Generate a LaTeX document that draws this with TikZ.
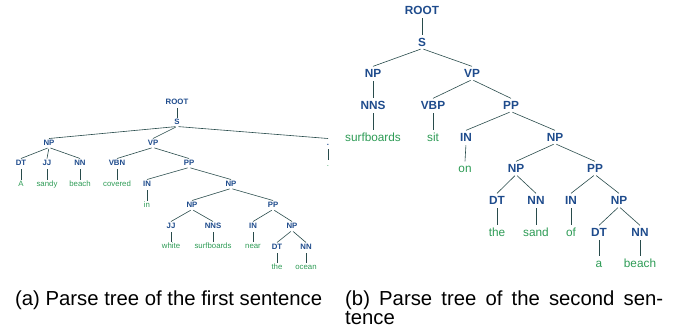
\documentclass[tikz,border=0pt]{standalone}
\usepackage{fontspec}
\setmainfont{Liberation Sans}
\usetikzlibrary{positioning}

\definecolor{tagblue}{RGB}{30,75,140}
\definecolor{wordgreen}{RGB}{45,155,85}
\definecolor{edgegray}{RGB}{40,75,75}

\tikzset{
  tagA/.style={font=\fontsize{7.8}{8}\selectfont\bfseries, text=tagblue,
    inner sep=1.5pt, text height=5.6pt, text depth=0pt},
  wordA/.style={font=\fontsize{7.8}{8}\selectfont, text=wordgreen,
    inner sep=1.5pt, text height=5.6pt, text depth=0pt},
  tagB/.style={font=\fontsize{11.8}{12}\selectfont\bfseries, text=tagblue,
    inner sep=2.2pt, text height=8.5pt, text depth=0pt},
  wordB/.style={font=\fontsize{11.8}{12}\selectfont, text=wordgreen,
    inner sep=2.2pt, text height=8.5pt, text depth=0pt},
  edge/.style={draw=edgegray, line width=0.6pt, shorten <=1.5pt},
  caption/.style={font=\fontsize{20.3}{19.3}\selectfont, inner sep=0pt}
}

\begin{document}
\begin{tikzpicture}[x=1pt,y=-1pt]
  \useasboundingbox (0,0) rectangle (675,335);

  % Tree (a): first sentence
  \node[tagA] (aRoot) at (177,102) {ROOT};
  \node[tagA] (aS)    at (177,122) {S};
  \node[tagA] (aNP)   at (49,143)  {NP};
  \node[tagA] (aVP)   at (153,143) {VP};
  \node[tagA] (aDotT) at (328,143) {.};
  \node[tagA] (aDT)   at (21,163)  {DT};
  \node[tagA] (aJJ)   at (47,163)  {JJ};
  \node[tagA] (aNN)   at (80,163)  {NN};
  \node[tagA] (aVBN)  at (117,163) {VBN};
  \node[tagA] (aPP)   at (189,163) {PP};
  \node[wordA] (aDotW) at (328,164) {.};
  \node[wordA] (aA)     at (21,184)  {A};
  \node[wordA] (aSandy) at (47,184)  {sandy};
  \node[wordA] (aBeach) at (80,184)  {beach};
  \node[wordA] (aCov)   at (117,184) {covered};
  \node[tagA] (aIN)   at (147,184) {IN};
  \node[tagA] (aNP2)  at (231,184) {NP};
  \node[wordA] (aIn)  at (147,205) {in};
  \node[tagA] (aNP3)  at (192,205) {NP};
  \node[tagA] (aPP2)  at (273,205) {PP};
  \node[tagA] (aJJ2)  at (171,226) {JJ};
  \node[tagA] (aNNS)  at (213,226) {NNS};
  \node[tagA] (aIN2)  at (253,226) {IN};
  \node[tagA] (aNP4)  at (292,226) {NP};
  \node[wordA] (aWhite) at (171,246) {white};
  \node[wordA] (aSurf)  at (213,246) {surfboards};
  \node[wordA] (aNear)  at (253,246) {near};
  \node[tagA] (aDT2)  at (277,247) {DT};
  \node[tagA] (aNN2)  at (306,247) {NN};
  \node[wordA] (aThe)   at (277,267) {the};
  \node[wordA] (aOcean) at (306,267) {ocean};

  \foreach \p/\c in {aRoot/aS, aS/aNP, aS/aVP, aS/aDotT, aDotT/aDotW,
      aNP/aDT, aNP/aJJ, aNP/aNN, aDT/aA, aJJ/aSandy, aNN/aBeach,
      aVP/aVBN, aVP/aPP, aVBN/aCov, aPP/aIN, aPP/aNP2, aIN/aIn,
      aNP2/aNP3, aNP2/aPP2, aNP3/aJJ2, aNP3/aNNS, aJJ2/aWhite, aNNS/aSurf,
      aPP2/aIN2, aPP2/aNP4, aIN2/aNear, aNP4/aDT2, aNP4/aNN2,
      aDT2/aThe, aNN2/aOcean}
    \draw[edge] (\p.south) -- (\c.north);

  % Tree (b): second sentence
  \node[tagB] (bRoot) at (422,10)  {ROOT};
  \node[tagB] (bS)    at (422,42)  {S};
  \node[tagB] (bNP)   at (373,73)  {NP};
  \node[tagB] (bVP)   at (472,73)  {VP};
  \node[tagB] (bNNS)  at (373,105) {NNS};
  \node[tagB] (bVBP)  at (433,105) {VBP};
  \node[tagB] (bPP)   at (511,105) {PP};
  \node[wordB] (bSurf) at (373,137) {surfboards};
  \node[wordB] (bSit)  at (433,137) {sit};
  \node[tagB] (bIN)   at (466,137) {IN};
  \node[tagB] (bNP2)  at (555,137) {NP};
  \node[wordB] (bOn)  at (465,168) {on};
  \node[tagB] (bNP3)  at (516,168) {NP};
  \node[tagB] (bPP2)  at (595,168) {PP};
  \node[tagB] (bDT)   at (497,200) {DT};
  \node[tagB] (bNN)   at (536,200) {NN};
  \node[tagB] (bIN2)  at (571,200) {IN};
  \node[tagB] (bNP4)  at (619,200) {NP};
  \node[wordB] (bThe)  at (497,232) {the};
  \node[wordB] (bSand) at (536,232) {sand};
  \node[wordB] (bOf)   at (571,232) {of};
  \node[tagB] (bDT2)  at (599,232) {DT};
  \node[tagB] (bNN2)  at (640,232) {NN};
  \node[wordB] (bA)     at (599,263) {a};
  \node[wordB] (bBeach) at (640,263) {beach};

  \foreach \p/\c in {bRoot/bS, bS/bNP, bS/bVP, bNP/bNNS, bNNS/bSurf,
      bVP/bVBP, bVP/bPP, bVBP/bSit, bPP/bIN, bPP/bNP2, bIN/bOn,
      bNP2/bNP3, bNP2/bPP2, bNP3/bDT, bNP3/bNN, bDT/bThe, bNN/bSand,
      bPP2/bIN2, bPP2/bNP4, bIN2/bOf, bNP4/bDT2, bNP4/bNN2,
      bDT2/bA, bNN2/bBeach}
    \draw[edge] (\p.south) -- (\c.north);

  % Captions
  \node[caption, anchor=base west] (capA) at (15,305.5) {(a) Parse tree of the first sentence};
  \node[caption, anchor=base west, text width=318pt, align=justify] (capB) at (345,305.5)
    {\hbadness=10000 (b) Parse tree of the second sen-\linebreak tence};
\end{tikzpicture}
\end{document}
